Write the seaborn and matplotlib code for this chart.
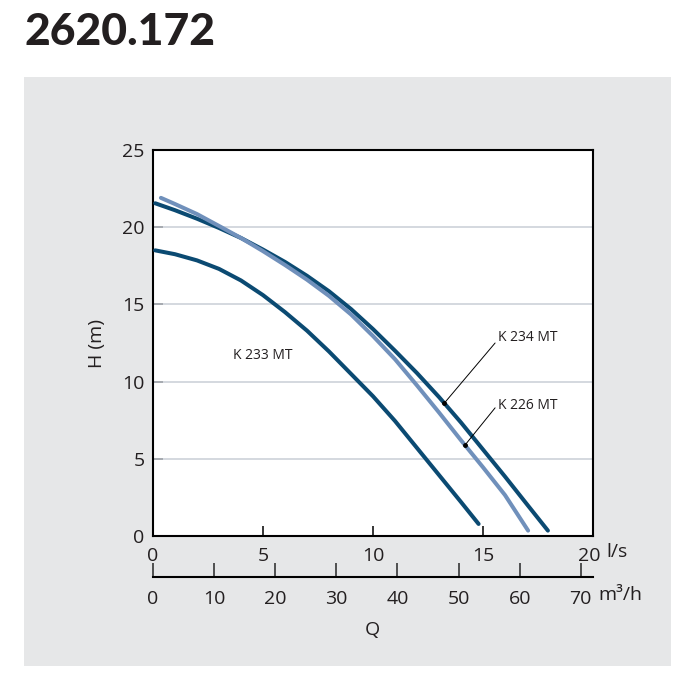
import matplotlib
matplotlib.use("Agg")
import matplotlib.pyplot as plt
import matplotlib.patches as mpatches
import matplotlib.transforms as mtransforms
import seaborn as sns
import pandas as pd
import numpy as np

# ---- data ----
k233_q = [0.1, 1, 2, 3, 4, 5, 6, 7, 8, 9, 10, 11, 12, 13, 14, 14.8]
k233_h = [18.5, 18.25, 17.85, 17.3, 16.55, 15.6, 14.5, 13.3, 11.95, 10.5, 9.05, 7.45, 5.7, 3.95, 2.2, 0.78]

k234_q = [0.1, 1, 2, 3, 4, 5, 6, 7, 8, 9, 10, 11, 12, 13, 14, 15, 16, 17, 17.95]
k234_h = [21.55, 21.1, 20.55, 19.95, 19.3, 18.55, 17.75, 16.85, 15.85, 14.7, 13.4, 12.0, 10.55, 9.0, 7.35, 5.6, 3.85, 2.05, 0.35]

k226_q = [0.36, 1, 2, 3, 4, 5, 6, 7, 8, 9, 10, 11, 12, 13, 14, 15, 16, 17.05]
k226_h = [21.9, 21.5, 20.85, 20.08, 19.3, 18.45, 17.55, 16.6, 15.55, 14.35, 12.95, 11.45, 9.75, 8.0, 6.2, 4.45, 2.65, 0.35]

y_ticks = [0, 5, 10, 15, 20, 25]
x_ticks = [0, 5, 10, 15, 20]
m3h_ticks = [0, 10, 20, 30, 40, 50, 60, 70]
LS_TO_M3H = 3.6

labels = ["K 233 MT", "K 234 MT", "K 226 MT"]
label_pos = [(4.98, 11.7), (15.7, 12.85), (15.7, 8.48)]
leader_q = [None, 13.24, 14.18]          # where the leader touches the curve
leader_to = [None, (15.55, 12.5), (15.55, 8.3)]

# ---- style ----
sns.set_theme(style="white")
plt.rcParams["font.family"] = ["Open Sans", "DejaVu Sans"]

DARK = "#0b4a72"
LIGHT = "#7090bb"
TXT = "#231f20"
GRID = "#c9ced6"

W, H = 699, 692
fig = plt.figure(figsize=(W / 100, H / 100), dpi=100)
fig.patch.set_facecolor("white")

# gray panel
fig.patches.append(mpatches.Rectangle((24 / W, 1 - 666 / H), (671 - 24) / W, (666 - 77) / H,
                                      transform=fig.transFigure, facecolor="#e6e7e8",
                                      edgecolor="none", zorder=-10))

fig.text(24 / W, 1 - 32 / H, "2620.172", fontsize=32, fontweight="black",
         family=["Lato", "DejaVu Sans"], color=TXT, va="center", ha="left")

ax = fig.add_axes([153 / W, 1 - 536 / H, (593 - 153) / W, (536 - 150) / H])
ax.set_zorder(2)
ax.set_facecolor("white")

df = pd.concat([
    pd.DataFrame({"Q": k233_q, "H": k233_h, "pump": "K233"}),
    pd.DataFrame({"Q": k234_q, "H": k234_h, "pump": "K234"}),
    pd.DataFrame({"Q": k226_q, "H": k226_h, "pump": "K226"}),
])
sns.lineplot(data=df, x="Q", y="H", hue="pump", palette={"K233": DARK, "K234": DARK, "K226": LIGHT},
             sort=False, estimator=None, linewidth=2.9, ax=ax, legend=False, zorder=3)

ax.set_xlim(0, 20)
ax.set_ylim(0, 25)
ax.set_xticks(x_ticks)
ax.set_yticks(y_ticks)
ax.set_xlabel("")
ax.set_ylabel("")
for v in y_ticks[1:-1]:
    ax.axhline(v, color=GRID, linewidth=1.1, zorder=1)
for s in ax.spines.values():
    s.set_color("black")
    s.set_linewidth(1.5)
ax.tick_params(axis="both", direction="in", length=7, width=1.1, color="black",
               labelsize=14, labelcolor=TXT)
ax.tick_params(axis="x", pad=8, bottom=True, top=False)
ax.tick_params(axis="y", pad=6, left=True, right=False)

# nudge the last x tick label ("20") slightly left, as in the reference
last_tick = ax.xaxis.get_major_ticks()[-1]
last_tick.label1.set_transform(last_tick.label1.get_transform() +
                               mtransforms.ScaledTranslation(-4 / 100, 0, fig.dpi_scale_trans))

# text labels + leaders
curves = [(k233_q, k233_h), (k234_q, k234_h), (k226_q, k226_h)]
for lab, (lx, ly), lq, lt, (cq, ch) in zip(labels, label_pos, leader_q, leader_to, curves):
    ax.text(lx, ly, lab, fontsize=10, color=TXT, ha="center" if lq is None else "left",
            va="center", zorder=4)
    if lq is not None:
        lh = float(np.interp(lq, cq, ch))
        ax.plot([lq, lt[0]], [lh, lt[1]], color="black", linewidth=0.7, zorder=4)
        ax.plot([lq], [lh], marker="o", markersize=2.5, color="black", zorder=5)

fig.text(606 / W, 1 - 552 / H, "l/s", fontsize=14, color=TXT, va="center", ha="left")

# secondary m3/h axis
ax2 = ax.secondary_xaxis(-(577 - 536) / (536 - 150),
                         functions=(lambda q: q * LS_TO_M3H, lambda m: m / LS_TO_M3H))
ax2.set_xticks(m3h_ticks)
ax2.spines["bottom"].set_linewidth(1.5)
ax2.spines["bottom"].set_color("black")
ax2.tick_params(axis="x", direction="in", length=10, width=1.1, labelsize=14,
                labelcolor=TXT, pad=9)
fig.text(598 / W, 1 - 595 / H, "m³/h", fontsize=14, color=TXT, va="center", ha="left")

fig.text(372 / W, 1 - 630 / H, "Q", fontsize=14, color=TXT, va="center", ha="center")
fig.text(97 / W, 1 - 343 / H, "H (m)", fontsize=14, color=TXT, va="center", ha="center",
         rotation=90)

fig.savefig("out.png", dpi=100, facecolor="white")
